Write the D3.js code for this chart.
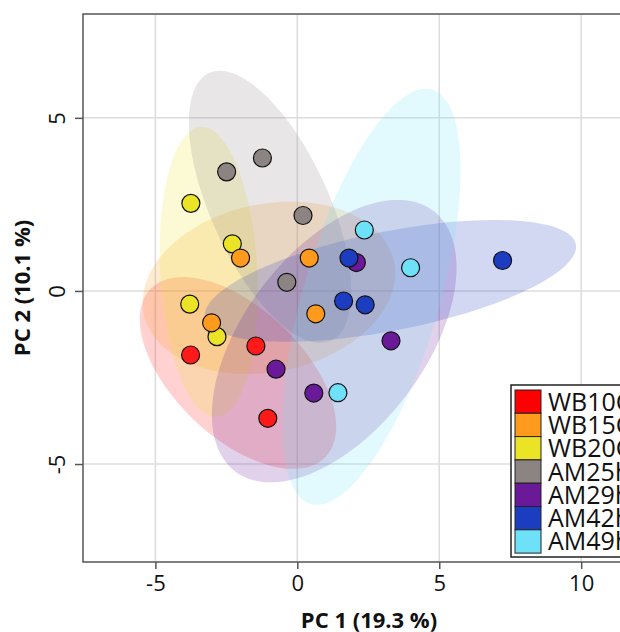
<!DOCTYPE html>
<html>
<head>
<meta charset="utf-8">
<script src="https://cdn.jsdelivr.net/npm/d3@7"></script>
<style>
	body { margin: 0; background: #fff; }
	svg { display: block; }
</style>
</head>
<body>
<svg id="pca-plot"></svg>
<script>
// GLOBAL CONSTANTS
// - svg-related
const width = 620;
const height = 632;
const plotLeft = 83;
const plotRight = 655; // plot runs past the right edge of the picture
const plotTop = 14;
const plotBottom = 562;
const pointRadius = 9;

// - data
const groups = ['WB10C', 'WB15C', 'WB20C', 'AM25h', 'AM29h', 'AM42h', 'AM49h'];
const groupColors = ['#ff1a1a', '#ff9b1c', '#ebe426', '#8c8383', '#6a1a98', '#1c3dbf', '#6ee0f8'];

// PC1 / PC2 scores per group
const scoresWB10C = [[-3.76, -1.85], [-1.46, -1.59], [-1.04, -3.68]];
const scoresWB15C = [[-2.00, 0.95], [0.42, 0.95], [-3.02, -0.92], [0.65, -0.66]];
const scoresWB20C = [[-3.75, 2.53], [-2.29, 1.36], [-3.79, -0.38], [-2.83, -1.32]];
const scoresAM25h = [[-2.49, 3.44], [-1.23, 3.84], [0.20, 2.18], [-0.37, 0.25]];
const scoresAM29h = [[2.08, 0.82], [3.30, -1.44], [-0.75, -2.26], [0.58, -2.95]];
const scoresAM42h = [[1.82, 0.95], [1.63, -0.29], [2.39, -0.40], [7.23, 0.88]];
const scoresAM49h = [[2.36, 1.76], [3.99, 0.67], [1.43, -2.94]];
const groupScores = [scoresWB10C, scoresWB15C, scoresWB20C, scoresAM25h, scoresAM29h, scoresAM42h, scoresAM49h];

// confidence ellipses: centre, half extent on each PC, correlation
const ellipseCx = [-2.09, -1.00, -3.12, -0.96, 1.30, 3.28, 2.61];
const ellipseCy = [-2.37, 0.09, 0.55, 2.43, -1.45, 0.29, -0.17];
const ellipseHx = [3.46, 4.45, 1.73, 2.86, 4.31, 6.54, 3.14];
const ellipseHy = [2.77, 2.49, 4.19, 3.93, 4.08, 1.76, 6.01];
const ellipseR = [-0.56, 0.17, -0.14, -0.62, 0.52, 0.56, 0.61];

// draw order of the points (WB20C goes under WB15C)
const pointOrder = [0, 2, 1, 3, 4, 5, 6];

const xTicks = [-5, 0, 5, 10];
const yTicks = [-5, 0, 5];
const xTitle = 'PC 1 (19.3 %)';
const yTitle = 'PC 2 (10.1 %)';

const svg = d3.select('#pca-plot')
	.attr('width', width)
	.attr('height', height);

const x = d3.scaleLinear().domain([-7.55, 12.6]).range([plotLeft, plotRight]);
const y = d3.scaleLinear().domain([-7.83, 8.0]).range([plotBottom, plotTop]);

function initialize(){
	drawGrid();
	drawEllipses();
	drawPoints();
	drawAxes();
	drawLegend();
}

// light grid lines at the ticks
function drawGrid(){
	const grid = svg.append('g').attr('class', 'grid');

	grid.selectAll('.vgrid')
		.data(xTicks)
		.enter()
		.append('line')
			.attr('x1', d => x(d))
			.attr('x2', d => x(d))
			.attr('y1', plotTop)
			.attr('y2', plotBottom)
			.attr('stroke', '#dcdcdc')
			.attr('stroke-width', 1.5);

	grid.selectAll('.hgrid')
		.data(yTicks)
		.enter()
		.append('line')
			.attr('x1', plotLeft)
			.attr('x2', plotRight)
			.attr('y1', d => y(d))
			.attr('y2', d => y(d))
			.attr('stroke', '#dcdcdc')
			.attr('stroke-width', 1.5);
}

// ellipse outline from centre, half extents and correlation
function ellipsePoints(i){
	const pts = [];
	const s = Math.sqrt(1 - ellipseR[i] * ellipseR[i]);
	for(let k = 0; k < 120; k++){
		const t = k / 120 * 2 * Math.PI;
		pts.push([
			ellipseCx[i] + ellipseHx[i] * Math.cos(t),
			ellipseCy[i] + ellipseHy[i] * (ellipseR[i] * Math.cos(t) + s * Math.sin(t))
		]);
	}
	return pts;
}

function drawEllipses(){
	const line = d3.line()
		.x(d => x(d[0]))
		.y(d => y(d[1]))
		.curve(d3.curveLinearClosed);

	svg.append('g')
		.attr('class', 'ellipses')
		.selectAll('path')
		.data(groups.map((g, i) => i))
		.enter()
		.append('path')
			.attr('d', i => line(ellipsePoints(i)))
			.attr('fill', i => groupColors[i])
			.attr('fill-opacity', 0.2)
			.attr('stroke', 'none');
}

function drawPoints(){
	const layer = svg.append('g').attr('class', 'points');

	pointOrder.forEach(function(i){
		layer.selectAll('.p' + i)
			.data(groupScores[i])
			.enter()
			.append('circle')
				.attr('class', 'p' + i)
				.attr('cx', d => x(d[0]))
				.attr('cy', d => y(d[1]))
				.attr('r', pointRadius)
				.attr('fill', groupColors[i])
				.attr('stroke', '#111')
				.attr('stroke-width', 1.2);
	});
}

function drawAxes(){
	const font = '"Open Sans", "Liberation Sans", sans-serif';

	// bottom axis
	const xAxis = svg.append('g')
		.attr('transform', 'translate(0,' + plotBottom + ')')
		.call(d3.axisBottom(x).tickValues(xTicks).tickSize(7).tickPadding(6).tickFormat(d3.format('d')));
	xAxis.select('.domain').remove();
	xAxis.selectAll('.tick line').attr('stroke', '#555').attr('stroke-width', 1.5);
	xAxis.selectAll('.tick text')
		.attr('font-family', font)
		.attr('font-size', '22px')
		.attr('fill', '#111')
		.text(d => d < 0 ? '-' + Math.abs(d) : d);

	// left axis, rotated labels
	const yAxis = svg.append('g')
		.attr('transform', 'translate(' + plotLeft + ',0)')
		.call(d3.axisLeft(y).tickValues(yTicks).tickSize(8).tickFormat(d3.format('d')));
	yAxis.select('.domain').remove();
	yAxis.selectAll('.tick line').attr('stroke', '#555').attr('stroke-width', 1.5);
	yAxis.selectAll('.tick text')
		.attr('font-family', font)
		.attr('font-size', '22px')
		.attr('fill', '#111')
		.attr('x', null)
		.attr('dy', null)
		.attr('text-anchor', 'middle')
		.attr('transform', 'translate(-18,0) rotate(-90)')
		.text(d => d < 0 ? '-' + Math.abs(d) : d);

	// frame lines: left, bottom, top
	svg.append('path')
		.attr('d', 'M' + plotRight + ',' + plotTop + 'H' + plotLeft + 'V' + plotBottom + 'H' + plotRight)
		.attr('fill', 'none')
		.attr('stroke', '#555')
		.attr('stroke-width', 1.5);

	// axis titles
	svg.append('text')
		.attr('x', (plotLeft + plotRight) / 2)
		.attr('y', 628)
		.attr('text-anchor', 'middle')
		.attr('font-family', font)
		.attr('font-weight', 'bold')
		.attr('font-size', '22px')
		.attr('fill', '#111')
		.text(xTitle);

	svg.append('text')
		.attr('transform', 'translate(30,' + (plotTop + plotBottom) / 2 + ') rotate(-90)')
		.attr('text-anchor', 'middle')
		.attr('font-family', font)
		.attr('font-weight', 'bold')
		.attr('font-size', '22px')
		.attr('fill', '#111')
		.text(yTitle);
}

// legend box in the lower right corner
function drawLegend(){
	const rowH = 23.3;
	const legend = svg.append('g')
		.attr('class', 'legend')
		.attr('transform', 'translate(511,385)');

	legend.append('rect')
		.attr('x', 0)
		.attr('y', 0)
		.attr('width', 135)
		.attr('height', 172)
		.attr('fill', '#fff')
		.attr('stroke', '#222')
		.attr('stroke-width', 1.5);

	const rows = legend.selectAll('.row')
		.data(groups)
		.enter()
		.append('g')
			.attr('class', 'row')
			.attr('transform', (d, i) => 'translate(4,' + (5 + i * rowH) + ')');

	rows.append('rect')
		.attr('width', 26)
		.attr('height', rowH)
		.attr('fill', (d, i) => i == 0 ? '#ff0000' : groupColors[i])
		.attr('stroke', '#222')
		.attr('stroke-width', 1);

	rows.append('text')
		.attr('x', 33)
		.attr('y', rowH / 2)
		.attr('dy', '0.36em')
		.attr('font-family', '"Open Sans", "Liberation Sans", sans-serif')
		.attr('font-size', '25px')
		.attr('fill', '#111')
		.text(d => d);
}

initialize();
</script>
</body>
</html>
